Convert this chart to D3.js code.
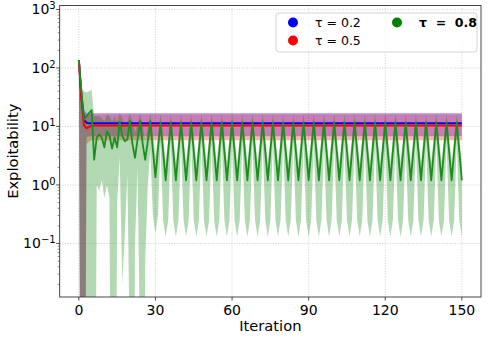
<!DOCTYPE html>
<html>
<head>
<meta charset="utf-8">
<script src="https://cdn.jsdelivr.net/npm/d3@7"></script>
<style>
body { margin: 0; background: #fff; }
text { font-family: "DejaVu Sans", sans-serif; fill: #000; }
</style>
</head>
<body>
<script>

// iteration index 0..150
var iterations = d3.range(151);

var xTicks = [0, 30, 60, 90, 120, 150];
var yTicks = [0.1, 1, 10, 100, 1000];
var yTickExp = ["\u22121", "0", "1", "2", "3"];
var seriesNames = ["\u03c4 = 0.2", "\u03c4 = 0.5", "\u03c4  =  0.8"];
var seriesColors = ["blue", "red", "green"];

// tau = 0.2 (mean, lower, upper)
var blueMean = [
  136,34,13,11.6,11.3,11.3,11.3,11.3,11.3,11.3, 11.3,11.3,11.3,11.3,11.3,11.3,11.3,11.3,11.3,11.3,
  11.3,11.3,11.3,11.3,11.3,11.3,11.3,11.3,11.3,11.3, 11.3,11.3,11.3,11.3,11.3,11.3,11.3,11.3,11.3,11.3,
  11.3,11.3,11.3,11.3,11.3,11.3,11.3,11.3,11.3,11.3, 11.3,11.3,11.3,11.3,11.3,11.3,11.3,11.3,11.3,11.3,
  11.3,11.3,11.3,11.3,11.3,11.3,11.3,11.3,11.3,11.3, 11.3,11.3,11.3,11.3,11.3,11.3,11.3,11.3,11.3,11.3,
  11.3,11.3,11.3,11.3,11.3,11.3,11.3,11.3,11.3,11.3, 11.3,11.3,11.3,11.3,11.3,11.3,11.3,11.3,11.3,11.3,
  11.3,11.3,11.3,11.3,11.3,11.3,11.3,11.3,11.3,11.3, 11.3,11.3,11.3,11.3,11.3,11.3,11.3,11.3,11.3,11.3,
  11.3,11.3,11.3,11.3,11.3,11.3,11.3,11.3,11.3,11.3, 11.3,11.3,11.3,11.3,11.3,11.3,11.3,11.3,11.3,11.3,
  11.3,11.3,11.3,11.3,11.3,11.3,11.3,11.3,11.3,11.3, 11.3
];
var blueLo = [
  136,1e-9,1e-9,6.5,6.8,6.8,6.8,6.8,6.8,6.8, 6.8,6.8,6.8,6.8,6.8,6.8,6.8,6.8,6.8,6.8,
  6.8,6.8,6.8,6.8,6.8,6.8,6.8,6.8,6.8,6.8, 6.8,6.8,6.8,6.8,6.8,6.8,6.8,6.8,6.8,6.8,
  6.8,6.8,6.8,6.8,6.8,6.8,6.8,6.8,6.8,6.8, 6.8,6.8,6.8,6.8,6.8,6.8,6.8,6.8,6.8,6.8,
  6.8,6.8,6.8,6.8,6.8,6.8,6.8,6.8,6.8,6.8, 6.8,6.8,6.8,6.8,6.8,6.8,6.8,6.8,6.8,6.8,
  6.8,6.8,6.8,6.8,6.8,6.8,6.8,6.8,6.8,6.8, 6.8,6.8,6.8,6.8,6.8,6.8,6.8,6.8,6.8,6.8,
  6.8,6.8,6.8,6.8,6.8,6.8,6.8,6.8,6.8,6.8, 6.8,6.8,6.8,6.8,6.8,6.8,6.8,6.8,6.8,6.8,
  6.8,6.8,6.8,6.8,6.8,6.8,6.8,6.8,6.8,6.8, 6.8,6.8,6.8,6.8,6.8,6.8,6.8,6.8,6.8,6.8,
  6.8,6.8,6.8,6.8,6.8,6.8,6.8,6.8,6.8,6.8, 6.8
];
var blueHi = [
  136,55,20,17,17,17,17,17,17,17, 17,17,17,17,17,17,17,17,17,17,
  17,17,17,17,17,17,17,17,17,17, 17,17,17,17,17,17,17,17,17,17,
  17,17,17,17,17,17,17,17,17,17, 17,17,17,17,17,17,17,17,17,17,
  17,17,17,17,17,17,17,17,17,17, 17,17,17,17,17,17,17,17,17,17,
  17,17,17,17,17,17,17,17,17,17, 17,17,17,17,17,17,17,17,17,17,
  17,17,17,17,17,17,17,17,17,17, 17,17,17,17,17,17,17,17,17,17,
  17,17,17,17,17,17,17,17,17,17, 17,17,17,17,17,17,17,17,17,17,
  17,17,17,17,17,17,17,17,17,17, 17
];

// tau = 0.5
var redMean = [
  136,30,10.5,9.3,9.8,10.3,10.4,10.4,10.4,10.4, 10.4,10.4,10.4,10.4,10.4,10.4,10.4,10.4,10.4,10.4,
  10.4,10.4,10.4,10.4,10.4,10.4,10.4,10.4,10.4,10.4, 10.4,10.4,10.4,10.4,10.4,10.4,10.4,10.4,10.4,10.4,
  10.4,10.4,10.4,10.4,10.4,10.4,10.4,10.4,10.4,10.4, 10.4,10.4,10.4,10.4,10.4,10.4,10.4,10.4,10.4,10.4,
  10.4,10.4,10.4,10.4,10.4,10.4,10.4,10.4,10.4,10.4, 10.4,10.4,10.4,10.4,10.4,10.4,10.4,10.4,10.4,10.4,
  10.4,10.4,10.4,10.4,10.4,10.4,10.4,10.4,10.4,10.4, 10.4,10.4,10.4,10.4,10.4,10.4,10.4,10.4,10.4,10.4,
  10.4,10.4,10.4,10.4,10.4,10.4,10.4,10.4,10.4,10.4, 10.4,10.4,10.4,10.4,10.4,10.4,10.4,10.4,10.4,10.4,
  10.4,10.4,10.4,10.4,10.4,10.4,10.4,10.4,10.4,10.4, 10.4,10.4,10.4,10.4,10.4,10.4,10.4,10.4,10.4,10.4,
  10.4,10.4,10.4,10.4,10.4,10.4,10.4,10.4,10.4,10.4, 10.4
];
var redLo = [
  136,1e-9,1e-9,5,5.5,5.8,5.8,5.8,5.8,5.8, 5.8,5.8,5.8,5.8,5.8,5.8,5.8,5.8,5.8,5.8,
  5.8,5.8,5.8,5.8,5.8,5.8,5.8,5.8,5.8,5.8, 5.8,5.8,5.8,5.8,5.8,5.8,5.8,5.8,5.8,5.8,
  5.8,5.8,5.8,5.8,5.8,5.8,5.8,5.8,5.8,5.8, 5.8,5.8,5.8,5.8,5.8,5.8,5.8,5.8,5.8,5.8,
  5.8,5.8,5.8,5.8,5.8,5.8,5.8,5.8,5.8,5.8, 5.8,5.8,5.8,5.8,5.8,5.8,5.8,5.8,5.8,5.8,
  5.8,5.8,5.8,5.8,5.8,5.8,5.8,5.8,5.8,5.8, 5.8,5.8,5.8,5.8,5.8,5.8,5.8,5.8,5.8,5.8,
  5.8,5.8,5.8,5.8,5.8,5.8,5.8,5.8,5.8,5.8, 5.8,5.8,5.8,5.8,5.8,5.8,5.8,5.8,5.8,5.8,
  5.8,5.8,5.8,5.8,5.8,5.8,5.8,5.8,5.8,5.8, 5.8,5.8,5.8,5.8,5.8,5.8,5.8,5.8,5.8,5.8,
  5.8,5.8,5.8,5.8,5.8,5.8,5.8,5.8,5.8,5.8, 5.8
];
var redHi = [
  136,50,18,15,16,16.2,16.2,16.2,16.2,16.2, 16.2,16.2,16.2,16.2,16.2,16.2,16.2,16.2,16.2,16.2,
  16.2,16.2,16.2,16.2,16.2,16.2,16.2,16.2,16.2,16.2, 16.2,16.2,16.2,16.2,16.2,16.2,16.2,16.2,16.2,16.2,
  16.2,16.2,16.2,16.2,16.2,16.2,16.2,16.2,16.2,16.2, 16.2,16.2,16.2,16.2,16.2,16.2,16.2,16.2,16.2,16.2,
  16.2,16.2,16.2,16.2,16.2,16.2,16.2,16.2,16.2,16.2, 16.2,16.2,16.2,16.2,16.2,16.2,16.2,16.2,16.2,16.2,
  16.2,16.2,16.2,16.2,16.2,16.2,16.2,16.2,16.2,16.2, 16.2,16.2,16.2,16.2,16.2,16.2,16.2,16.2,16.2,16.2,
  16.2,16.2,16.2,16.2,16.2,16.2,16.2,16.2,16.2,16.2, 16.2,16.2,16.2,16.2,16.2,16.2,16.2,16.2,16.2,16.2,
  16.2,16.2,16.2,16.2,16.2,16.2,16.2,16.2,16.2,16.2, 16.2,16.2,16.2,16.2,16.2,16.2,16.2,16.2,16.2,16.2,
  16.2,16.2,16.2,16.2,16.2,16.2,16.2,16.2,16.2,16.2, 16.2
];

// tau = 0.8 (oscillates)
var greenMean = [
  136,40,13,15,17,19,2.7,6.5,7.3,6.4, 4.4,8.3,7,4.2,6.5,4.4,12,7,5.6,6,
  12.5,5,2.9,6,12.5,5,2.7,5.5,12.3,4, 1.35,4.2,11.7,3.8,1.2,3.8,11.7,3.8,1.2,3.8,
  11.7,3.8,1.2,3.8,11.7,3.8,1.2,3.8,11.7,3.8, 1.2,3.8,11.7,3.8,1.2,3.8,11.7,3.8,1.2,3.8,
  11.7,3.8,1.2,3.8,11.7,3.8,1.2,3.8,11.7,3.8, 1.2,3.8,11.7,3.8,1.2,3.8,11.7,3.8,1.2,3.8,
  11.7,3.8,1.2,3.8,11.7,3.8,1.2,3.8,11.7,3.8, 1.2,3.8,11.7,3.8,1.2,3.8,11.7,3.8,1.2,3.8,
  11.7,3.8,1.2,3.8,11.7,3.8,1.2,3.8,11.7,3.8, 1.2,3.8,11.7,3.8,1.2,3.8,11.7,3.8,1.2,3.8,
  11.7,3.8,1.2,3.8,11.7,3.8,1.2,3.8,11.7,3.8, 1.2,3.8,11.7,3.8,1.2,3.8,11.7,3.8,1.2,3.8,
  11.7,3.8,1.2,3.8,11.7,3.8,1.2,3.8,11.7,3.8, 1.2
];
var greenLo = [
  136,1e-9,1e-9,1e-9,1e-9,1e-9,1e-9,1.0,0.8,1.2, 0.6,1.0,0.6,1e-9,1e-9,0.5,3,0.02,0.15,1.5,
  0.001,1e-9,0.1,2,0.001,1e-9,0.05,1.0,4,0.3, 0.15,0.3,5.5,0.25,0.13,0.25,5.5,0.25,0.13,0.25,
  5.5,0.25,0.13,0.25,5.5,0.25,0.13,0.25,5.5,0.25, 0.13,0.25,5.5,0.25,0.13,0.25,5.5,0.25,0.13,0.25,
  5.5,0.25,0.13,0.25,5.5,0.25,0.13,0.25,5.5,0.25, 0.13,0.25,5.5,0.25,0.13,0.25,5.5,0.25,0.13,0.25,
  5.5,0.25,0.13,0.25,5.5,0.25,0.13,0.25,5.5,0.25, 0.13,0.25,5.5,0.25,0.13,0.25,5.5,0.25,0.13,0.25,
  5.5,0.25,0.13,0.25,5.5,0.25,0.13,0.25,5.5,0.25, 0.13,0.25,5.5,0.25,0.13,0.25,5.5,0.25,0.13,0.25,
  5.5,0.25,0.13,0.25,5.5,0.25,0.13,0.25,5.5,0.25, 0.13,0.25,5.5,0.25,0.13,0.25,5.5,0.25,0.13,0.25,
  5.5,0.25,0.13,0.25,5.5,0.25,0.13,0.25,5.5,0.25, 0.13
];
var greenHi = [
  136,45,40,38,40,42,15,15,15,14, 12,16,15,12,15,12,17,14,10,12,
  17,12,8,11,17,10,6,9,17,8, 3,7,16.5,6.5,2.5,6.5,16.5,6.5,2.5,6.5,
  16.5,6.5,2.5,6.5,16.5,6.5,2.5,6.5,16.5,6.5, 2.5,6.5,16.5,6.5,2.5,6.5,16.5,6.5,2.5,6.5,
  16.5,6.5,2.5,6.5,16.5,6.5,2.5,6.5,16.5,6.5, 2.5,6.5,16.5,6.5,2.5,6.5,16.5,6.5,2.5,6.5,
  16.5,6.5,2.5,6.5,16.5,6.5,2.5,6.5,16.5,6.5, 2.5,6.5,16.5,6.5,2.5,6.5,16.5,6.5,2.5,6.5,
  16.5,6.5,2.5,6.5,16.5,6.5,2.5,6.5,16.5,6.5, 2.5,6.5,16.5,6.5,2.5,6.5,16.5,6.5,2.5,6.5,
  16.5,6.5,2.5,6.5,16.5,6.5,2.5,6.5,16.5,6.5, 2.5,6.5,16.5,6.5,2.5,6.5,16.5,6.5,2.5,6.5,
  16.5,6.5,2.5,6.5,16.5,6.5,2.5,6.5,16.5,6.5, 2.5
];

var series = [
  { mean: blueMean, lo: blueLo, hi: blueHi },
  { mean: redMean, lo: redLo, hi: redHi },
  { mean: greenMean, lo: greenLo, hi: greenHi }
];

function plot_it() {
    var W = 488, H = 339;
    var left = 59.7, right = 481, top = 5.5, bottom = 297;

    var svg = d3.select("body").append("svg")
        .attr("width", W)
        .attr("height", H);

    var x = d3.scaleLinear().domain([-7.5, 157.5]).range([left, right]);
    var y = d3.scaleLog().domain([Math.pow(10, -1.915), Math.pow(10, 3.068)]).range([bottom, top]);

    svg.append("clipPath").attr("id", "plotclip")
        .append("rect")
        .attr("x", left).attr("y", top)
        .attr("width", right - left).attr("height", bottom - top);

    // dotted grid
    var grid = svg.append("g").attr("stroke", "#b0b0b0").attr("stroke-width", 0.8)
        .attr("stroke-dasharray", "1,1.6").attr("opacity", 0.7);
    grid.selectAll(".gx").data(xTicks).enter().append("line")
        .attr("x1", d => x(d)).attr("x2", d => x(d))
        .attr("y1", top).attr("y2", bottom);
    grid.selectAll(".gy").data(yTicks).enter().append("line")
        .attr("x1", left).attr("x2", right)
        .attr("y1", d => y(d)).attr("y2", d => y(d));

    var plot = svg.append("g").attr("clip-path", "url(#plotclip)");

    // shaded bands
    series.forEach(function (s, k) {
        var area = d3.area()
            .x(function (d) { return x(d); })
            .y0(function (d) { return y(s.lo[d]); })
            .y1(function (d) { return y(s.hi[d]); });
        plot.append("path")
            .datum(iterations)
            .attr("d", area)
            .attr("fill", seriesColors[k])
            .attr("fill-opacity", 0.3)
            .attr("stroke", "none");
    });

    // mean lines
    var lineColors = ["blue", "red", "#1e8c1e"];
    var lineWidths = [2, 2, 1.8];
    series.forEach(function (s, k) {
        var line = d3.line()
            .x(function (d) { return x(d); })
            .y(function (d) { return y(s.mean[d]); });
        plot.append("path")
            .datum(iterations)
            .attr("d", line)
            .attr("fill", "none")
            .attr("stroke", lineColors[k])
            .attr("stroke-width", lineWidths[k])
            .attr("stroke-linejoin", "round");
    });

    // frame
    svg.append("rect")
        .attr("x", left).attr("y", top)
        .attr("width", right - left).attr("height", bottom - top)
        .attr("fill", "none").attr("stroke", "#333").attr("stroke-width", 0.9);

    // x ticks
    var xt = svg.append("g");
    xt.selectAll("line").data(xTicks).enter().append("line")
        .attr("x1", d => x(d)).attr("x2", d => x(d))
        .attr("y1", bottom).attr("y2", bottom + 3.5)
        .attr("stroke", "#333").attr("stroke-width", 0.9);
    xt.selectAll("text").data(xTicks).enter().append("text")
        .attr("x", d => x(d)).attr("y", 314.5)
        .attr("text-anchor", "middle")
        .style("font-size", "14px")
        .text(d => d);

    // y ticks (major + log minor)
    var minor = [];
    [-2, -1, 0, 1, 2, 3].forEach(function (e) {
        for (var m = 2; m <= 9; m++) {
            var v = m * Math.pow(10, e);
            if (v > y.domain()[0] && v < y.domain()[1]) minor.push(v);
        }
    });
    var yt = svg.append("g");
    yt.selectAll(".minor").data(minor).enter().append("line")
        .attr("x1", left - 2).attr("x2", left)
        .attr("y1", d => y(d)).attr("y2", d => y(d))
        .attr("stroke", "#333").attr("stroke-width", 0.6);
    yt.selectAll(".major").data(yTicks).enter().append("line")
        .attr("x1", left - 3.5).attr("x2", left)
        .attr("y1", d => y(d)).attr("y2", d => y(d))
        .attr("stroke", "#333").attr("stroke-width", 0.9);
    var ylab = yt.selectAll("text").data(yTicks).enter().append("text")
        .attr("x", left - 4).attr("y", d => y(d) + 5)
        .attr("text-anchor", "end")
        .style("font-size", "14px");
    ylab.append("tspan").text("10");
    ylab.append("tspan")
        .attr("dy", "-0.5em")
        .style("font-size", "10px")
        .text((d, i) => yTickExp[i]);

    // axis labels
    svg.append("text")
        .attr("x", (left + right) / 2).attr("y", 331)
        .attr("text-anchor", "middle")
        .style("font-size", "14.7px")
        .text("Iteration");
    svg.append("text")
        .attr("transform", "translate(18," + (top + bottom) / 2 + ")rotate(-90)")
        .attr("text-anchor", "middle")
        .style("font-size", "14.7px")
        .text("Exploitability");

    // legend
    var lg = svg.append("g");
    lg.append("rect")
        .attr("x", 276).attr("y", 13)
        .attr("width", 201).attr("height", 39)
        .attr("rx", 3)
        .attr("fill", "white").attr("fill-opacity", 0.8)
        .attr("stroke", "#d0d0d0").attr("stroke-width", 0.9);
    var legendPos = [[293, 22.5], [293, 40.5], [397, 22.5]];
    seriesNames.forEach(function (name, k) {
        lg.append("circle")
            .attr("cx", legendPos[k][0]).attr("cy", legendPos[k][1])
            .attr("r", 5)
            .attr("fill", seriesColors[k]);
        lg.append("text")
            .attr("x", legendPos[k][0] + 22).attr("y", legendPos[k][1] + 4.5)
            .style("font-size", "12.5px")
            .style("font-weight", k == 2 ? "bold" : "normal")
            .style("white-space", "pre")
            .text(name);
    });
}

plot_it();
</script>
</body>
</html>
